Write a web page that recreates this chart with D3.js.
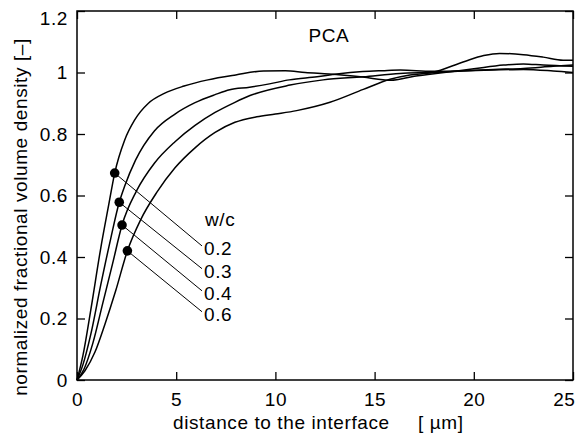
<!DOCTYPE html>
<html>
<head>
<meta charset="utf-8">
<script src="https://cdn.jsdelivr.net/npm/d3@7"></script>
<style>
  body { margin: 0; background: #fff; }
  text { font-family: "Liberation Sans", Arial, sans-serif; fill: #000; letter-spacing: 0.6px; }
</style>
</head>
<body>
<div id="chart"></div>
<script>
// data
const wcLabels = ['0.2', '0.3', '0.4', '0.6']

const x02 = [0, 0.3, 0.7, 1.2, 1.6, 1.9, 2.4, 2.9, 3.6, 4.4, 5.4, 6.6, 8, 9.4, 10.5, 11.5, 12.7, 14.4, 15.8, 17, 18.5, 20, 21.5, 22.5, 23.5, 25]
const y02 = [0, 0.08, 0.23, 0.43, 0.57, 0.673, 0.78, 0.845, 0.9, 0.932, 0.956, 0.976, 0.992, 1.005, 1.006, 1.0, 0.995, 0.985, 0.975, 0.988, 1.0, 1.012, 1.024, 1.028, 1.024, 1.02]

const x03 = [0, 0.3, 0.7, 1.2, 1.7, 2.13, 2.4, 2.95, 3.9, 4.94, 5.95, 6.96, 7.7, 8.7, 9.7, 10.7, 12.1, 13.1, 14.4, 15.4, 16.3, 17.9, 19.5, 21, 22.5, 24, 25]
const y03 = [0, 0.05, 0.15, 0.31, 0.46, 0.578, 0.63, 0.715, 0.81, 0.865, 0.902, 0.928, 0.944, 0.952, 0.963, 0.976, 0.986, 0.995, 1.003, 1.006, 1.008, 1.004, 1.006, 1.01, 1.013, 1.02, 1.024]

const x04 = [0, 0.35, 0.8, 1.3, 1.8, 2.27, 3.0, 3.9, 4.94, 5.95, 6.96, 7.96, 8.72, 10.74, 12.41, 14.43, 16.28, 18, 19.5, 21, 22.5, 24, 25]
const y04 = [0, 0.035, 0.12, 0.25, 0.38, 0.504, 0.615, 0.705, 0.775, 0.828, 0.87, 0.903, 0.925, 0.959, 0.976, 0.986, 0.997, 1.0, 1.005, 1.008, 1.01, 1.005, 1.0]

const x06 = [0, 0.4, 0.9, 1.4, 1.95, 2.54, 3.2, 4.02, 4.94, 5.95, 6.96, 7.96, 9.06, 10, 11.07, 12.75, 14.43, 15.78, 16.78, 17.9, 19.5, 20.5, 21.3, 22.5, 23.5, 24.5, 25]
const y06 = [0, 0.03, 0.09, 0.18, 0.29, 0.42, 0.52, 0.61, 0.69, 0.755, 0.805, 0.838, 0.856, 0.865, 0.876, 0.903, 0.945, 0.978, 0.992, 1.0, 1.035, 1.055, 1.062, 1.058, 1.05, 1.04, 1.04]

// marked points and where their labels sit
const dotX = [1.9, 2.13, 2.27, 2.54]
const dotY = [0.673, 0.578, 0.504, 0.42]
const labelX = 6.3
const labelY = [0.436, 0.362, 0.29, 0.222]
const headerY = 0.524

const xTicks = [0, 5, 10, 15, 20, 25]
const yTicks = [0, 0.2, 0.4, 0.6, 0.8, 1, 1.2]

const series = [[x02, y02], [x03, y03], [x04, y04], [x06, y06]]
    .map(([xs, ys]) => xs.map((x, i) => ({ x: x, y: ys[i] })))

const margin = { top: 11, right: 3, bottom: 58, left: 77 },
    width = 576 - margin.left - margin.right,
    height = 438 - margin.top - margin.bottom

const fontSize = '19px'

const svg = d3.select('#chart').append('svg')
    .attr('width', 576)
    .attr('height', 438)
    .append('g')
    .attr('transform', `translate(${margin.left},${margin.top})`)

const xScale = d3.scaleLinear().domain([0, 25]).range([0, width])
const yScale = d3.scaleLinear().domain([0, 1.2]).range([height, 0])

// axes: inward ticks, mirrored on top and right
const tickLen = 8
const xAxis = svg.append('g')
    .attr('transform', `translate(0,${height})`)
    .call(d3.axisBottom(xScale).tickValues(xTicks).tickSize(-tickLen).tickPadding(tickLen + 5).tickFormat(d3.format('d')))
svg.append('g')
    .call(d3.axisTop(xScale).tickValues(xTicks).tickSize(-tickLen).tickFormat(''))
const yAxis = svg.append('g')
    .call(d3.axisLeft(yScale).tickValues(yTicks).tickSize(-tickLen).tickPadding(tickLen + 1).tickFormat(d => d === 0 || d === 1 ? d3.format('d')(d) : d3.format('.1f')(d)))
svg.append('g')
    .attr('transform', `translate(${width},0)`)
    .call(d3.axisRight(yScale).tickValues(yTicks).tickSize(-tickLen).tickFormat(''))

svg.selectAll('.domain').remove()
svg.selectAll('.tick line').attr('stroke', '#000').attr('stroke-width', 1.3)
svg.selectAll('.tick text').style('font-size', fontSize).attr('fill', '#000').attr('font-family', null)
// end labels pulled inside so they are not cut off
yAxis.selectAll('.tick text').filter(d => d === 1.2).attr('dy', '0.72em')
xAxis.selectAll('.tick text').filter(d => d === 25).attr('text-anchor', 'end').attr('dx', 2)

svg.append('rect')
    .attr('width', width)
    .attr('height', height)
    .attr('fill', 'none')
    .attr('stroke', '#000')
    .attr('stroke-width', 1.5)

// curves
const lineGenerator = d3.line()
    .x(d => xScale(d.x))
    .y(d => yScale(d.y))
    .curve(d3.curveMonotoneX)

svg.append('g')
    .selectAll('path')
    .data(series)
    .join('path')
    .attr('d', lineGenerator)
    .attr('fill', 'none')
    .attr('stroke', '#000')
    .attr('stroke-width', 1.5)

// leader lines, dots, labels
svg.append('g')
    .selectAll('line')
    .data(dotX)
    .join('line')
    .attr('x1', d => xScale(d))
    .attr('y1', (d, i) => yScale(dotY[i]))
    .attr('x2', xScale(labelX))
    .attr('y2', (d, i) => yScale(labelY[i]))
    .attr('stroke', '#000')
    .attr('stroke-width', 1)

svg.append('g')
    .selectAll('circle')
    .data(dotX)
    .join('circle')
    .attr('cx', d => xScale(d))
    .attr('cy', (d, i) => yScale(dotY[i]))
    .attr('r', 4.8)
    .attr('fill', '#000')

svg.append('g')
    .selectAll('text')
    .data(wcLabels)
    .join('text')
    .attr('x', xScale(labelX) + 2)
    .attr('y', (d, i) => yScale(labelY[i]) + 2)
    .attr('dy', '0.36em')
    .style('font-size', fontSize)
    .text(d => d)

svg.append('text')
    .attr('x', xScale(labelX) + 3)
    .attr('y', yScale(headerY))
    .attr('dy', '0.36em')
    .style('font-size', fontSize)
    .text('w/c')

svg.append('text')
    .attr('x', xScale(12.7))
    .attr('y', 31)
    .attr('text-anchor', 'middle')
    .style('font-size', fontSize)
    .text('PCA')

// axis titles
const xTitle = svg.append('text')
    .attr('x', 96)
    .attr('y', height + 49)
    .style('font-size', fontSize)
xTitle.append('tspan').text('distance to the interface')
xTitle.append('tspan').attr('x', 341).text('[ \u00b5m]')

svg.append('text')
    .attr('transform', `translate(${-50},${206}) rotate(-90)`)
    .attr('text-anchor', 'middle')
    .style('font-size', fontSize)
    .text('normalized fractional volume density [\u2013]')
</script>
</body>
</html>
